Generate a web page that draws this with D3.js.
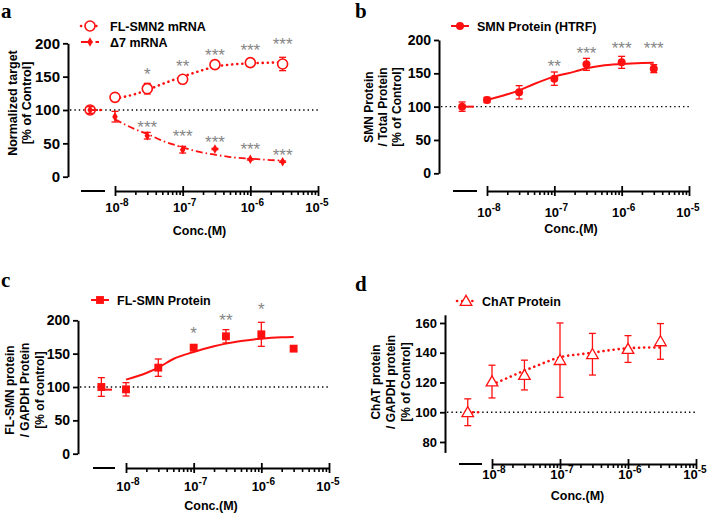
<!DOCTYPE html>
<html><head><meta charset="utf-8">
<script src="https://cdn.jsdelivr.net/npm/d3@7"></script>
<style>body{margin:0;background:#fff} svg{display:block}</style>
</head><body><svg id="c" width="708" height="515"></svg>
<script>
// ---------- shared data ----------
const concs = [1e-8, 3e-8, 1e-7, 3e-7, 1e-6, 3e-6];
const curveConcs = [1e-8, 2e-8, 3e-8, 5e-8, 1e-7, 2e-7, 3e-7, 5e-7, 1e-6, 2e-6, 3e-6];
const xTickValues = [1e-8, 1e-7, 1e-6, 1e-5];
const xTickExps = ["-8", "-7", "-6", "-5"];
const xTitle = "Conc.(M)";

// ---------- panel a ----------
const aFLName = "FL-SMN2 mRNA";
const aFLControl = 100, aFLControlErr = 5;
const aFLMean = [119, 132, 146, 168, 171, 169];
const aFLErr = [2, 8, 3, 2, 2, 10];
const aFLCurve = [117, 124, 130, 139, 150, 160, 165, 168, 170, 171, 171.5];
const aFLStarConcs = [3e-8, 1e-7, 3e-7, 1e-6, 3e-6];
const aFLStars = ["*", "**", "***", "***", "***"];
const aFLStarY = [159, 171, 187.5, 195, 203.5];

const aD7Name = "Δ7 mRNA";
const aD7Control = 100, aD7ControlErr = 5;
const aD7Mean = [90, 61.5, 40.5, 41.5, 26, 22.5];
const aD7Err = [8, 5, 5, 1, 1, 1];
const aD7Curve = [86, 71, 64, 54, 44, 36, 33, 29.5, 27, 25, 24];
const aD7StarConcs = [3e-8, 1e-7, 3e-7, 1e-6, 3e-6];
const aD7Stars = ["***", "***", "***", "***", "***"];
const aD7StarY = [79, 66, 56.5, 46.5, 37.5];
const aYTicks = [0, 50, 100, 150, 200];
const aYTitle = ["Normalized target", "[% of Control]"];

// ---------- panel b ----------
const bName = "SMN Protein (HTRF)";
const bControl = 100, bControlErr = 7;
const bMean = [110, 121.5, 142, 163.5, 166.5, 157];
const bErr = [4, 10, 10, 9, 9, 6];
const bCurve = [110, 118.5, 124.5, 134, 145, 152.5, 157.5, 161.5, 164, 165.5, 166];
const bStarConcs = [1e-7, 3e-7, 1e-6, 3e-6];
const bStars = ["**", "***", "***", "***"];
const bStarY = [166, 185, 192.5, 192.5];
const bYTicks = [0, 50, 100, 150, 200];
const bYTitle = ["SMN Protein", "/ Total Protein", "[% of Control]"];

// ---------- panel c ----------
const cName = "FL-SMN Protein";
const cControl = 100, cControlErr = 14, cControlFit = 96;
const cMean = [96.5, 129, 159, 176, 179, 157.5];
const cErr = [10, 13, 4, 10, 18, 4];
const cCurve = [111, 121, 129, 142, 152.5, 161, 165, 169, 172.5, 174.5, 175];
const cStarConcs = [1e-7, 3e-7, 1e-6];
const cStars = ["*", "**", "*"];
const cStarY = [186, 205, 221];
const cYTicks = [0, 50, 100, 150, 200];
const cYTitle = ["FL-SMN protein", "/ GAPDH Protein", "[% of control]"];

// ---------- panel d ----------
const dName = "ChAT Protein";
const dControl = 100, dControlErr = 9;
const dMean = [120.6, 125, 135, 139, 142.5, 147.6];
const dErr = [11, 10, 25, 14, 9, 12];
const dCurve = [118.5, 124.5, 128, 132, 137, 139, 140, 141.5, 143, 143.5, 143.5];
const dYTicks = [80, 100, 120, 140, 160];
const dYTitle = ["ChAT protein", "/ GAPDH protein", "[% of Control]"];

// ---------- drawing ----------
const RED = "#ff1010";
const svg = d3.select("#c");
const FONT = "'Liberation Sans', Arial, sans-serif";

const styles = {
  dotted: {dash: "0.1,5", width: 2.6, cap: "round"},
  dashdot: {dash: "7,3,1.5,3", width: 1.8, cap: "butt"},
  solid: {dash: null, width: 2, cap: "butt"}
};

function marker(g, kind, x, y) {
  if (kind === "openCircle") {
    g.append("circle").attr("cx", x).attr("cy", y).attr("r", 5)
      .attr("fill", "#fff").attr("stroke", RED).attr("stroke-width", 1.6);
  } else if (kind === "diamond") {
    g.append("path").attr("d", d3.symbol(d3.symbolDiamond, 26)())
      .attr("transform", `translate(${x},${y})`).attr("fill", RED);
  } else if (kind === "filledCircle") {
    g.append("circle").attr("cx", x).attr("cy", y).attr("r", 4).attr("fill", RED);
  } else if (kind === "square") {
    g.append("path").attr("d", d3.symbol(d3.symbolSquare, 62)())
      .attr("transform", `translate(${x},${y})`).attr("fill", RED);
  } else if (kind === "openTriangle") {
    g.append("path").attr("d", d3.symbol(d3.symbolTriangle, 58)())
      .attr("transform", `translate(${x},${y + 1})`)
      .attr("fill", "#fff").attr("stroke", RED).attr("stroke-width", 1.3);
  }
}

function lineStyle(sel, st) {
  sel.attr("fill", "none").attr("stroke", RED).attr("stroke-width", st.width)
    .attr("stroke-linecap", st.cap);
  if (st.dash) sel.attr("stroke-dasharray", st.dash);
  return sel;
}

function drawPanel(cfg) {
  const g = svg.append("g");
  const y = d3.scaleLinear().domain(cfg.yDomain).range(cfg.yRange);
  const x = d3.scaleLog().domain([1e-8, 1e-5]).range(cfg.xRange);
  const xc = d3.scalePoint().domain(["Control"]).range(cfg.seg).padding(0.5).align(0.38);

  // panel letter
  g.append("text").attr("x", cfg.letterPos[0]).attr("y", cfg.letterPos[1])
    .text(cfg.letter).attr("font-family", "'Liberation Serif', 'Times New Roman', serif")
    .attr("font-weight", "bold").attr("font-size", 21).attr("fill", "#000");

  // y axis
  const yAx = g.append("g").attr("transform", `translate(${cfg.yAxisX},0)`)
    .call(d3.axisLeft(y).tickValues(cfg.yTicks).tickSize(5).tickPadding(3).tickSizeOuter(0));
  yAx.select(".domain").attr("stroke", "#000").attr("stroke-width", 2);
  yAx.selectAll(".tick line").attr("stroke", "#000").attr("stroke-width", 1.8);
  yAx.selectAll(".tick text").attr("font-family", FONT).attr("font-weight", "bold")
    .attr("font-size", cfg.yFont).attr("fill", "#000");

  // y title
  const ty = g.append("text").attr("transform", `translate(0,${cfg.yTitleY}) rotate(-90)`)
    .attr("text-anchor", "middle").attr("font-family", FONT).attr("font-weight", "bold")
    .attr("font-size", cfg.yTitleFont).attr("fill", "#000");
  cfg.yTitle.forEach((t, i) => {
    ty.append("tspan").attr("x", 0).attr("y", cfg.yTitleXs[i] + 4.3).text(t);
  });

  // x axis: control segment
  g.append("line").attr("x1", cfg.seg[0]).attr("x2", cfg.seg[1])
    .attr("y1", cfg.xAxisY).attr("y2", cfg.xAxisY).attr("stroke", "#000").attr("stroke-width", 2);
  // main log axis
  const minor = [];
  for (let e = -8; e < -5; e++) for (let m = 2; m <= 9; m++) minor.push(m * Math.pow(10, e));
  const xAx = g.append("g").attr("transform", `translate(0,${cfg.xAxisY})`)
    .call(d3.axisBottom(x).tickValues(minor).tickSize(4).tickSizeOuter(0).tickFormat(""));
  xAx.select(".domain").attr("stroke", "#000").attr("stroke-width", 2);
  xAx.selectAll(".tick line").attr("stroke", "#000").attr("stroke-width", 1.6);
  const xMaj = g.append("g").attr("transform", `translate(0,${cfg.xAxisY})`)
    .call(d3.axisBottom(x).tickValues(xTickValues).tickSize(5).tickSizeOuter(0).tickFormat(""));
  xMaj.select(".domain").remove();
  xMaj.selectAll(".tick line").attr("y1", -5).attr("stroke", "#000").attr("stroke-width", 1.8);
  xTickValues.forEach((v, i) => {
    const t = g.append("text").attr("x", x(v) + (i === 3 ? -1 : 2)).attr("y", cfg.xAxisY + cfg.xLabOff)
      .attr("text-anchor", "middle").attr("font-family", FONT).attr("font-weight", "bold")
      .attr("font-size", 13).attr("fill", "#000");
    t.append("tspan").text("10");
    t.append("tspan").attr("dy", -6).attr("font-size", 10).text(xTickExps[i]);
  });
  g.append("text").attr("x", (cfg.seg[0] + cfg.xRange[1]) / 2).attr("y", cfg.xTitleY)
    .attr("text-anchor", "middle").attr("font-family", FONT).attr("font-weight", "bold")
    .attr("font-size", 12.5).attr("fill", "#000").text(xTitle);

  // reference line at 100
  g.append("line").attr("x1", cfg.yAxisX + 2).attr("x2", cfg.refEnd)
    .attr("y1", y(100)).attr("y2", y(100)).attr("stroke", "#000").attr("stroke-width", 1.4)
    .attr("stroke-dasharray", "1.4,3");

  // series
  cfg.series.forEach(s => {
    const st = styles[s.style];
    const line = d3.line().x(d => x(d[0])).y(d => y(d[1])).curve(d3.curveMonotoneX);
    lineStyle(g.append("path").attr("d", line(curveConcs.map((c, i) => [c, s.curve[i]]))), st);
    lineStyle(g.append("line").attr("x1", xc("Control")).attr("x2", cfg.seg[1] - 3)
      .attr("y1", y(s.controlFit)).attr("y2", y(s.controlFit)), st);
    const pts = [{px: xc("Control"), v: s.control, e: s.controlErr}]
      .concat(concs.map((c, i) => ({px: x(c), v: s.mean[i], e: s.err[i]})));
    pts.forEach(p => {
      if (p.e > 0) {
        const eb = g.append("g").attr("stroke", RED).attr("stroke-width", 1.3);
        eb.append("line").attr("x1", p.px).attr("x2", p.px).attr("y1", y(p.v - p.e)).attr("y2", y(p.v + p.e));
        eb.append("line").attr("x1", p.px - 3.5).attr("x2", p.px + 3.5).attr("y1", y(p.v - p.e)).attr("y2", y(p.v - p.e));
        eb.append("line").attr("x1", p.px - 3.5).attr("x2", p.px + 3.5).attr("y1", y(p.v + p.e)).attr("y2", y(p.v + p.e));
      }
    });
    pts.forEach(p => marker(g, s.marker, p.px, y(p.v)));
    (s.starConcs || []).forEach((c, i) => {
      g.append("text").attr("x", x(c)).attr("y", y(s.starY[i]) + 9)
        .attr("text-anchor", "middle").attr("font-family", FONT)
        .attr("font-size", 17).attr("fill", "#858585").text(s.stars[i]);
    });
  });

  // legend
  cfg.series.forEach((s, i) => {
    const ly = cfg.legend[1] + i * 16;
    const st = styles[s.style];
    lineStyle(g.append("line").attr("x1", cfg.legend[0] - 9).attr("x2", cfg.legend[0] + 9)
      .attr("y1", ly).attr("y2", ly), st);
    marker(g, s.marker, cfg.legend[0], ly);
    g.append("text").attr("x", cfg.legend[0] + cfg.legendGap).attr("y", ly + 4.5)
      .attr("font-family", FONT).attr("font-weight", "bold").attr("font-size", 12.5)
      .attr("fill", "#000").text(s.name);
  });
}

drawPanel({
  letter: "a", letterPos: [1, 18],
  yDomain: [0, 200], yRange: [176.7, 43.3], yTicks: aYTicks, yAxisX: 68, yFont: 15,
  yTitle: aYTitle, yTitleXs: [13, 27], yTitleY: 103, yTitleFont: 12.5,
  xRange: [115, 318], seg: [81, 105], xAxisY: 191, xLabOff: 21, xTitleY: 235, refEnd: 318,
  legend: [90, 26], legendGap: 20,
  series: [
    {name: aFLName, marker: "openCircle", style: "dotted", control: aFLControl, controlErr: aFLControlErr,
     controlFit: 100, mean: aFLMean, err: aFLErr, curve: aFLCurve,
     starConcs: aFLStarConcs, stars: aFLStars, starY: aFLStarY},
    {name: aD7Name, marker: "diamond", style: "dashdot", control: aD7Control, controlErr: aD7ControlErr,
     controlFit: 100, mean: aD7Mean, err: aD7Err, curve: aD7Curve,
     starConcs: aD7StarConcs, stars: aD7Stars, starY: aD7StarY}
  ]
});

drawPanel({
  letter: "b", letterPos: [355, 18],
  yDomain: [0, 200], yRange: [173.3, 40], yTicks: bYTicks, yAxisX: 439, yFont: 14,
  yTitle: bYTitle, yTitleXs: [369, 383, 397], yTitleY: 107, yTitleFont: 12,
  xRange: [487, 689], seg: [453, 477], xAxisY: 191, xLabOff: 26, xTitleY: 233, refEnd: 690,
  legend: [460, 26], legendGap: 17,
  series: [
    {name: bName, marker: "filledCircle", style: "solid", control: bControl, controlErr: bControlErr,
     controlFit: 100, mean: bMean, err: bErr, curve: bCurve,
     starConcs: bStarConcs, stars: bStars, starY: bStarY}
  ]
});

drawPanel({
  letter: "c", letterPos: [1, 287],
  yDomain: [0, 200], yRange: [453.7, 320.3], yTicks: cYTicks, yAxisX: 78, yFont: 14,
  yTitle: cYTitle, yTitleXs: [10, 25, 40], yTitleY: 390, yTitleFont: 12,
  xRange: [126, 329], seg: [93, 115], xAxisY: 468, xLabOff: 23, xTitleY: 510, refEnd: 330,
  legend: [100, 300], legendGap: 17,
  series: [
    {name: cName, marker: "square", style: "solid", control: cControl, controlErr: cControlErr,
     controlFit: cControlFit, mean: cMean, err: cErr, curve: cCurve,
     starConcs: cStarConcs, stars: cStars, starY: cStarY}
  ]
});

drawPanel({
  letter: "d", letterPos: [355, 291],
  yDomain: [73, 165.5], yRange: [452.4, 314.8], yTicks: dYTicks, yAxisX: 445, yFont: 13,
  yTitle: dYTitle, yTitleXs: [376, 391, 406], yTitleY: 382, yTitleFont: 12,
  xRange: [492, 696], seg: [459, 482], xAxisY: 464, xLabOff: 15, xTitleY: 500, refEnd: 697,
  legend: [466, 301], legendGap: 16,
  series: [
    {name: dName, marker: "openTriangle", style: "dotted", control: dControl, controlErr: dControlErr,
     controlFit: 100, mean: dMean, err: dErr, curve: dCurve}
  ]
});
</script>
</body></html>
